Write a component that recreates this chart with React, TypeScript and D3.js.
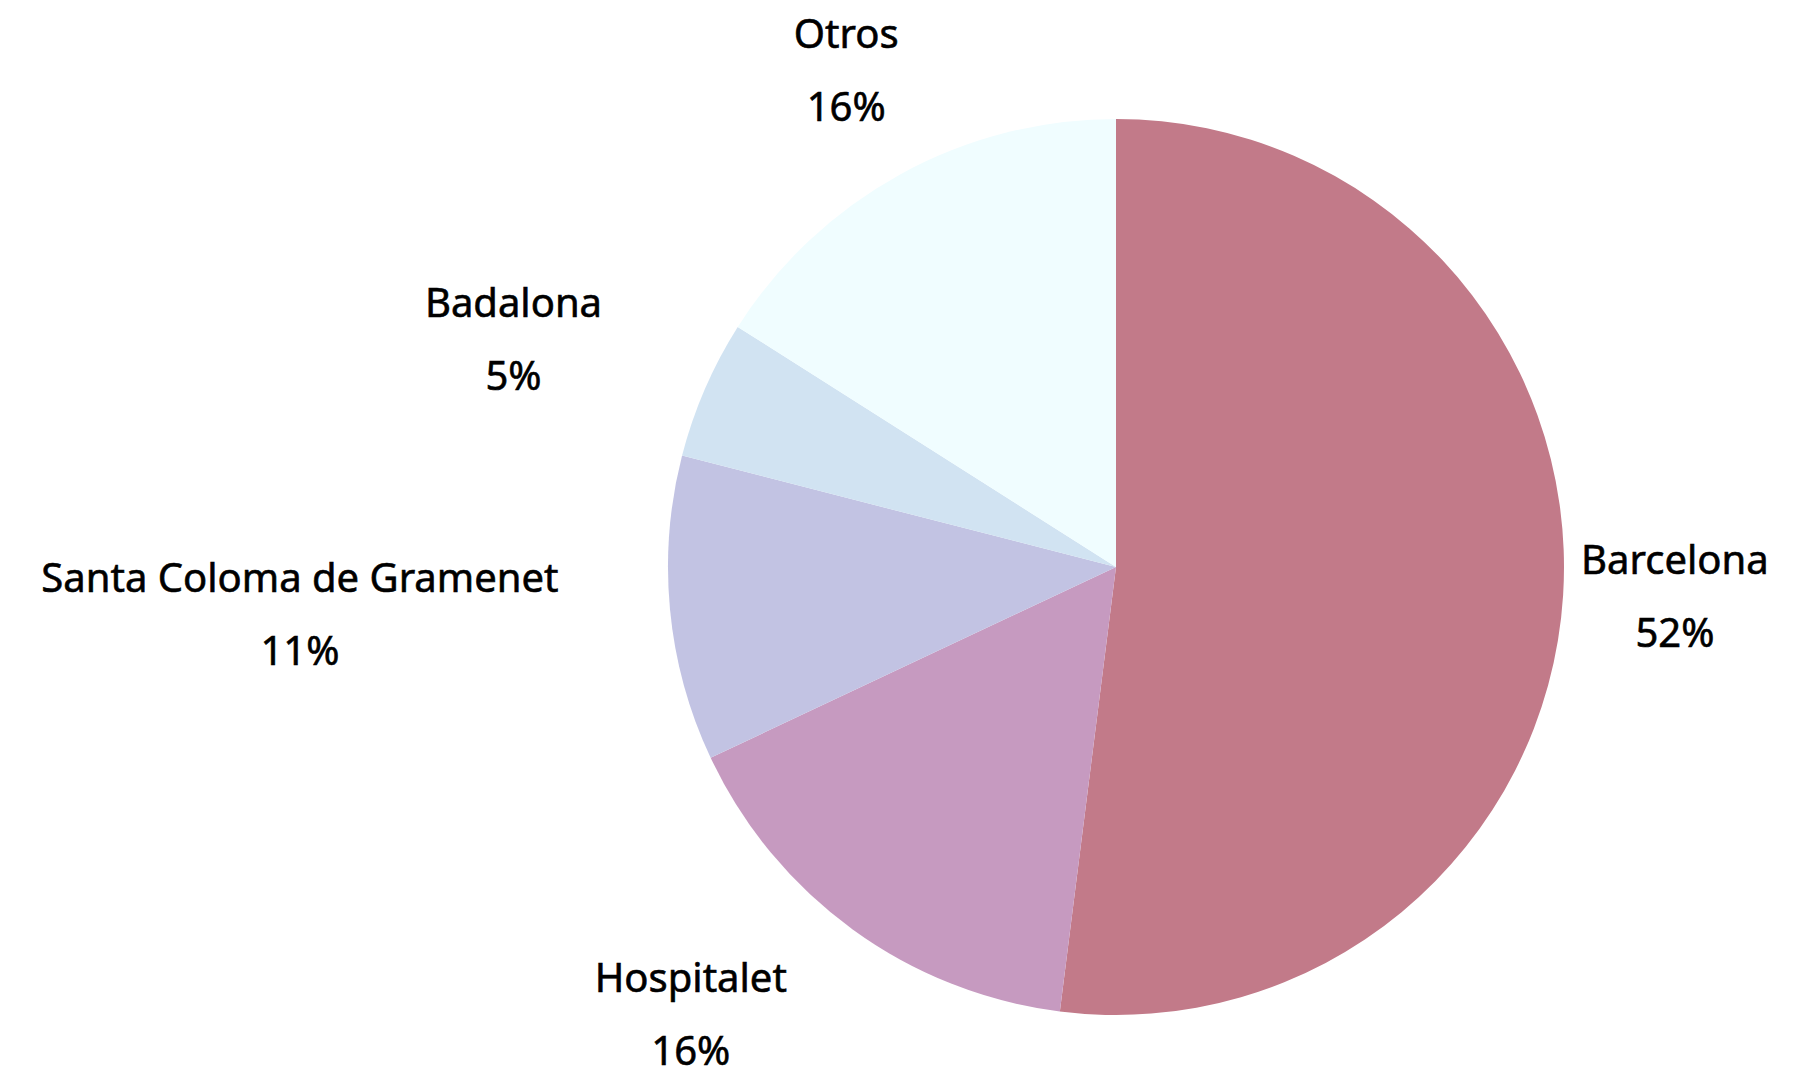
import React, { useEffect, useRef } from 'react';
import * as d3 from 'd3';

const categories = ['Barcelona', 'Hospitalet', 'Santa Coloma de Gramenet', 'Badalona', 'Otros'];
const shares = [52, 16, 11, 5, 16];
const colors = ['#C27A89', '#C69AC0', '#C2C3E3', '#D1E3F2', '#F0FDFF'];

const WIDTH = 1809;
const HEIGHT = 1073;

export default function App() {
	const chartRef = useRef<SVGSVGElement | null>(null);

	useEffect(() => {
		document.body.style.margin = '0';
		const svg = d3.select(chartRef.current);
		svg.selectAll('*').remove();

		const cx = 1116;
		const cy = 567;
		const radius = 448;
		const labelRadius = 560;

		const data = categories.map((name, i) => ({ name, value: shares[i], color: colors[i] }));

		const pie = d3
			.pie<any>()
			.sort(null)
			.value((d) => d.value);

		const arc = d3.arc<any>().innerRadius(0).outerRadius(radius);

		const g = svg.append('g').attr('transform', `translate(${cx},${cy})`);

		const arcs = pie(data);

		g.selectAll('path')
			.data(arcs)
			.enter()
			.append('path')
			.attr('d', arc)
			.attr('fill', (d) => d.data.color);

		const labels = g
			.selectAll('g.label')
			.data(arcs)
			.enter()
			.append('g')
			.attr('class', 'label')
			.style('font-family', '"Noto Sans", sans-serif')
			.style('font-size', '40px')
			.attr('fill', '#000')
			.attr('stroke', '#000')
			.attr('stroke-width', 0.6);

		labels.each(function (d) {
			const mid = (d.startAngle + d.endAngle) / 2;
			const x = labelRadius * Math.sin(mid);
			const y = -labelRadius * Math.cos(mid);
			const lg = d3.select(this);
			// left-hand labels hang off their point, the others sit centred on it
			const endAnchored = Math.sin(mid) < -0.55;
			const name = lg
				.append('text')
				.attr('x', x)
				.attr('y', y - 28)
				.attr('text-anchor', endAnchored ? 'end' : 'middle')
				.text(d.data.name);
			const w = (name.node() as SVGTextElement).getComputedTextLength();
			lg.append('text')
				.attr('x', endAnchored ? x - w / 2 : x)
				.attr('y', y + 45)
				.attr('text-anchor', 'middle')
				.text(`${d.data.value}%`);
		});
	}, []);

	return <svg ref={chartRef} width={WIDTH} height={HEIGHT} style={{ display: 'block', background: '#fff' }}></svg>;
}
